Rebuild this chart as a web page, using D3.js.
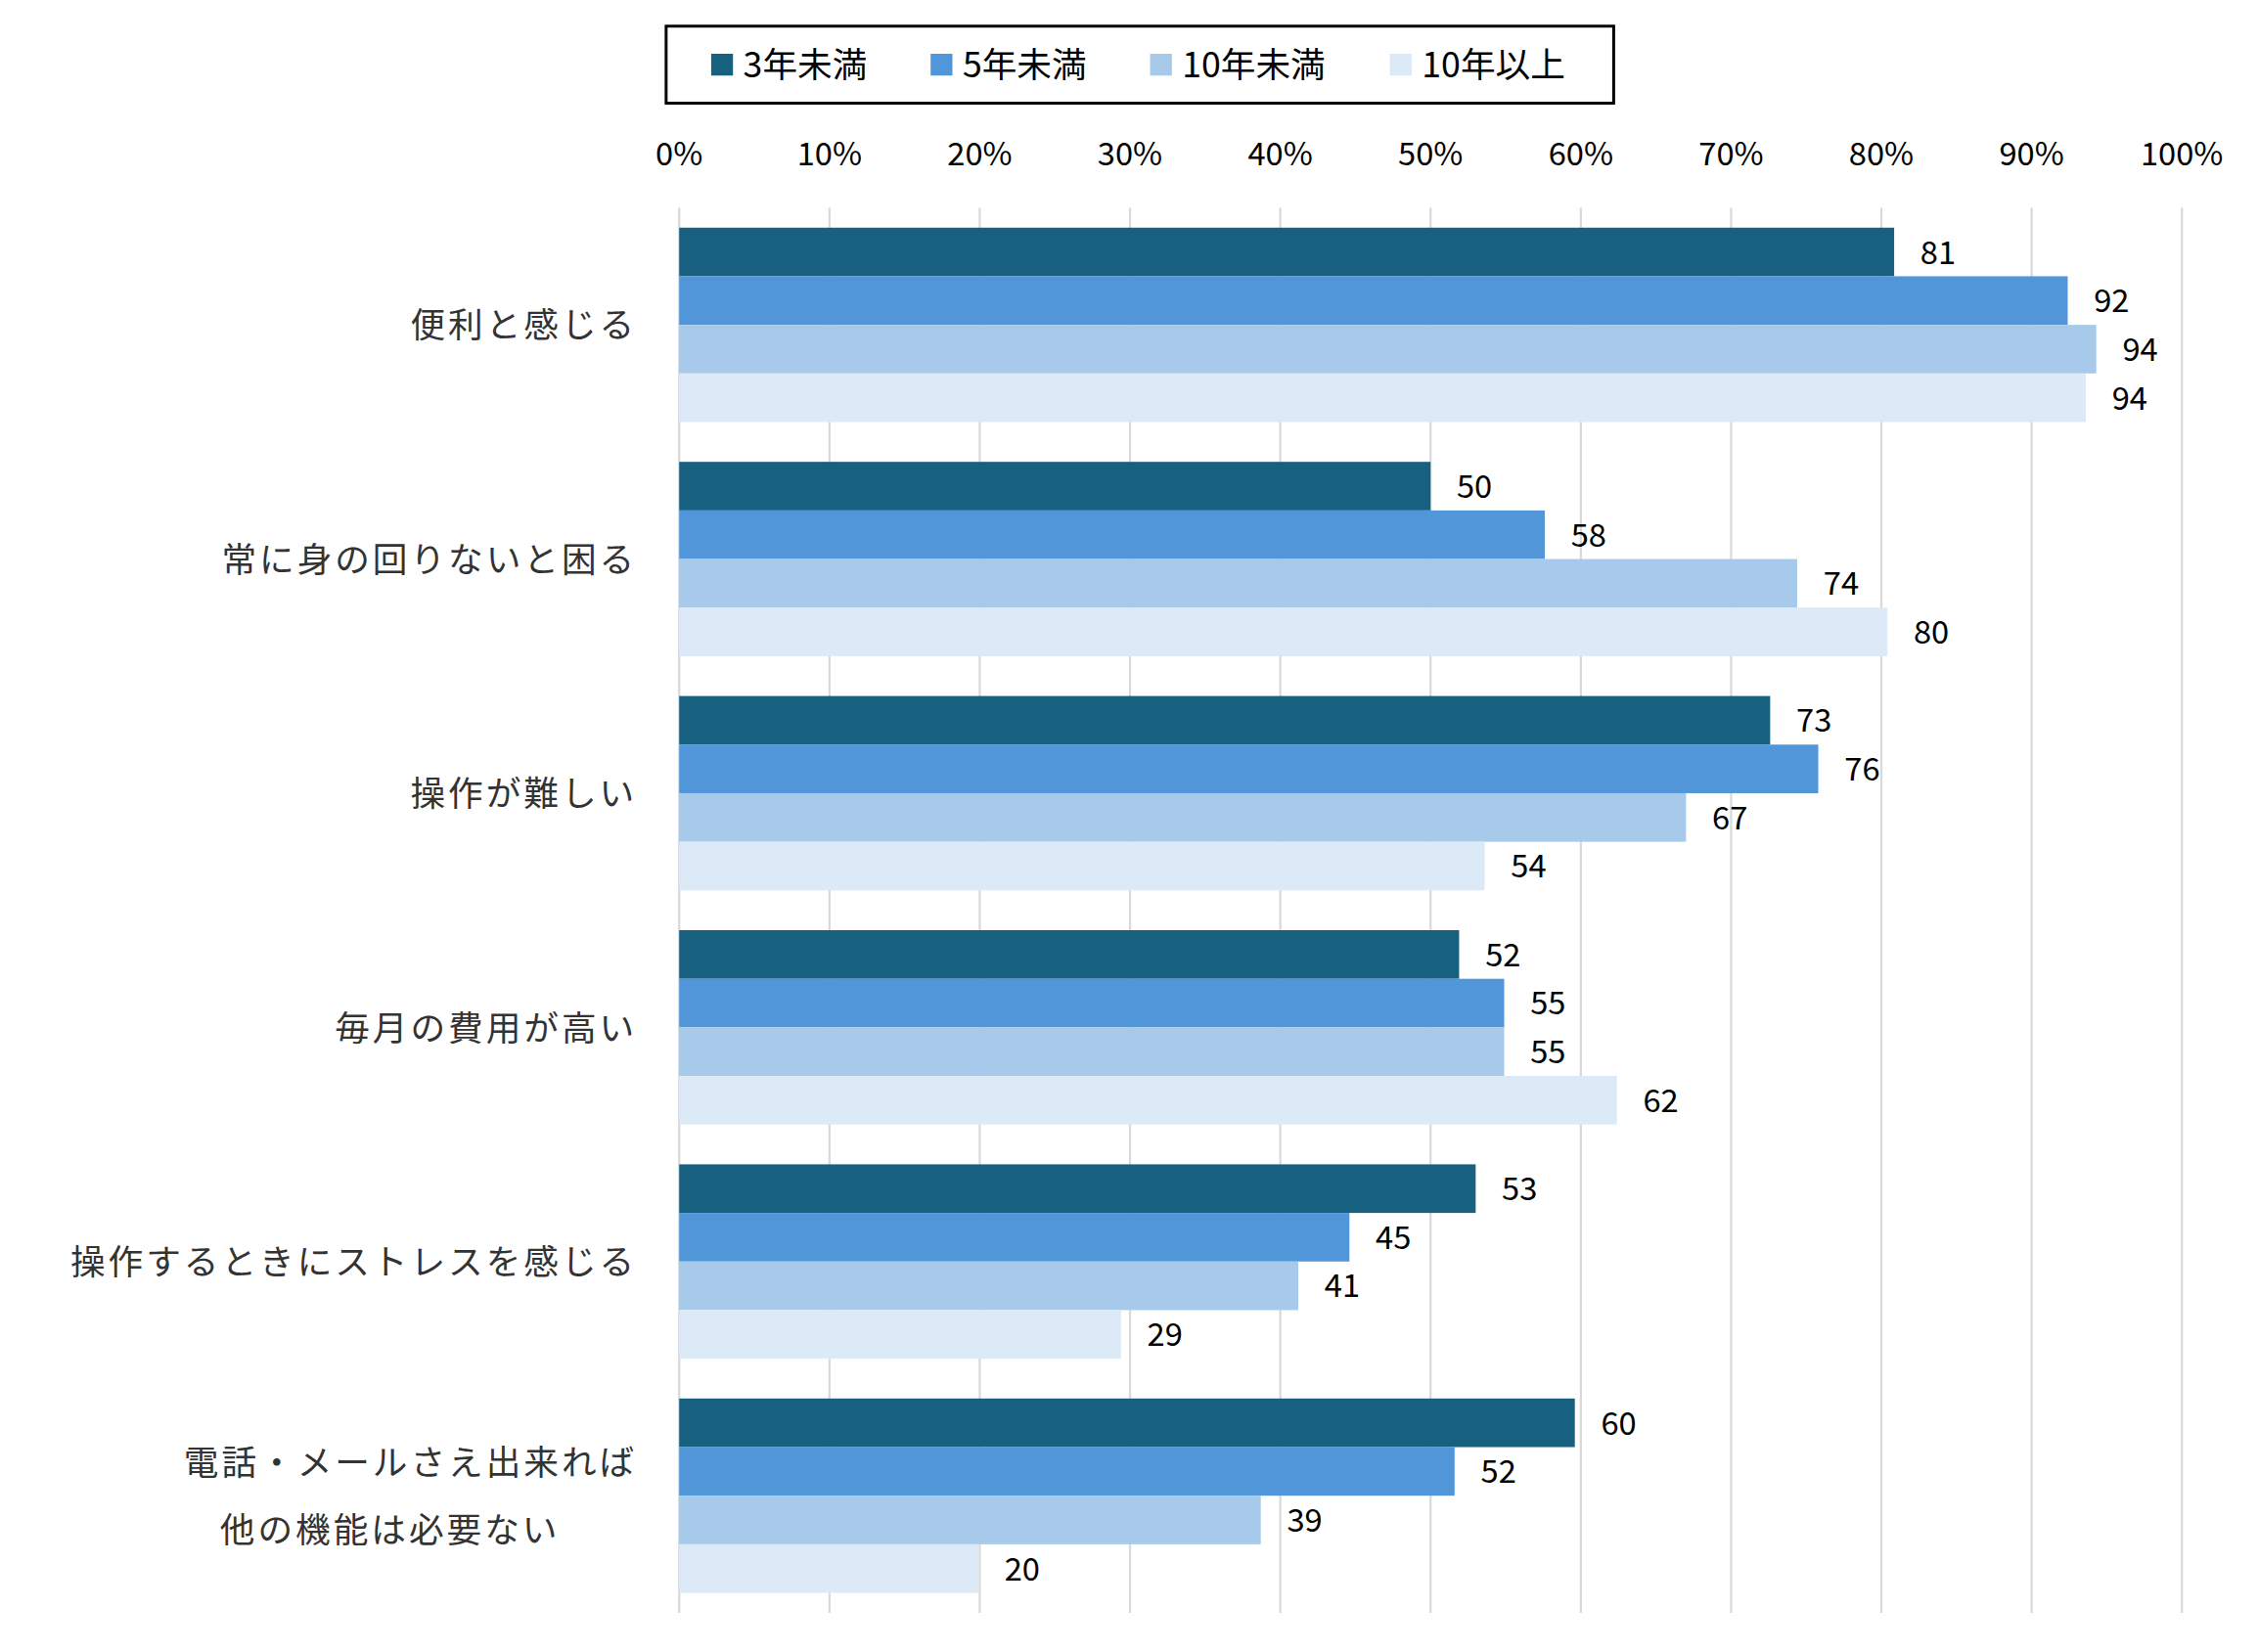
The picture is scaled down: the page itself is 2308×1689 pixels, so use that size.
<!DOCTYPE html>
<html><head><meta charset="utf-8">
<script src="https://cdn.jsdelivr.net/npm/d3@7"></script>
<style>body{margin:0;background:#fff}text{font-family:"Noto Sans CJK JP","Noto Sans",sans-serif}</style>
</head><body><svg id="chart"></svg>
<script>
const categories = ["便利と感じる", "常に身の回りないと困る", "操作が難しい", "毎月の費用が高い", "操作するときにストレスを感じる", "電話・メールさえ出来れば\n他の機能は必要ない"];
const seriesNames = ["3年未満", "5年未満", "10年未満", "10年以上"];
const colors = ["#17607f", "#5096d9", "#a7caeb", "#dce9f7"];
const values = [
  [80.85, 92.4, 94.3, 93.6],
  [50.0, 57.6, 74.4, 80.4],
  [72.6, 75.8, 67.0, 53.6],
  [51.9, 54.9, 54.9, 62.4],
  [53.0, 44.6, 41.2, 29.4],
  [59.6, 51.6, 38.7, 19.9]
];
const ticks = d3.range(0, 101, 10);

const W = 1553, H = 1137;
const svg = d3.select("#chart").attr("width", 2308).attr("height", 1689).attr("viewBox", `0 0 ${W} ${H}`);

const x = d3.scaleLinear().domain([0, 100]).range([467, 1501]);
const y = d3.scaleBand().domain(categories).range([143, 1110]).paddingInner(0.17).paddingOuter(0.085);
const ys = d3.scaleBand().domain(seriesNames).range([0, y.bandwidth()]);

// gridlines
svg.append("g").selectAll("line").data(ticks).join("line")
  .attr("x1", d => x(d)).attr("x2", d => x(d)).attr("y1", 143).attr("y2", 1110)
  .attr("stroke", "#d9d9d9").attr("stroke-width", 1.5);

// top tick labels
svg.append("g").selectAll("text").data(ticks).join("text")
  .attr("x", d => x(d)).attr("y", 114).attr("text-anchor", "middle")
  .attr("font-size", 22).attr("fill", "#000").text(d => d + "%");

const groups = svg.append("g").selectAll("g").data(categories).join("g")
  .attr("transform", d => `translate(0,${y(d)})`);

groups.each(function(cat, i) {
  const g = d3.select(this);
  seriesNames.forEach((s, j) => {
    const v = values[i][j];
    g.append("rect").attr("x", x(0)).attr("y", ys(s)).attr("width", x(v) - x(0))
      .attr("height", ys.bandwidth()).attr("fill", colors[j]);
    g.append("text").attr("x", x(v) + 18).attr("y", ys(s) + ys.bandwidth() / 2 + 8)
      .attr("font-size", 22).attr("fill", "#000").text(Math.round(v));
  });
  const lines = cat.split("\n");
  const cy = y.bandwidth() / 2;
  lines.forEach((l, k) => {
    const t = g.append("text").attr("font-size", 24).attr("fill", "#333").attr("letter-spacing", 2)
      .attr("y", cy + 9 + (k - (lines.length - 1) / 2) * 46).text(l);
    if (lines.length > 1 && k === 1) t.attr("x", 268).attr("text-anchor", "middle");
    else t.attr("x", 438).attr("text-anchor", "end");
  });
});

// legend
const lg = svg.append("g");
lg.append("rect").attr("x", 458).attr("y", 18).attr("width", 652).attr("height", 53)
  .attr("fill", "#fff").attr("stroke", "#000").attr("stroke-width", 2);
const lx = [489, 640, 791, 956];
seriesNames.forEach((s, j) => {
  lg.append("rect").attr("x", lx[j]).attr("y", 37).attr("width", 15).attr("height", 15).attr("fill", colors[j]);
  lg.append("text").attr("x", lx[j] + 22).attr("y", 53).attr("font-size", 24).attr("fill", "#000").text(s);
});
</script></body></html>
